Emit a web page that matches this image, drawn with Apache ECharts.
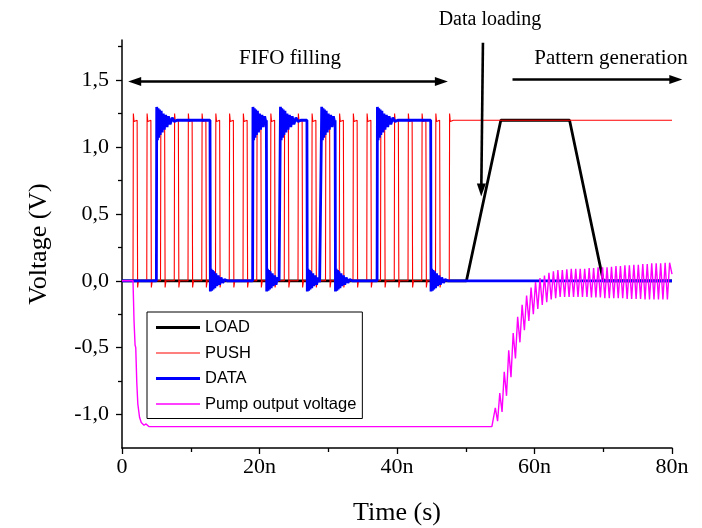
<!DOCTYPE html>
<html>
<head>
<meta charset="utf-8">
<script src="https://cdn.jsdelivr.net/npm/echarts@6/dist/echarts.min.js"></script>
<style>
html,body{margin:0;padding:0;background:#fff;}
#chart{width:702px;height:528px;}
</style>
</head>
<body>
<div id="chart"></div>
<script>
// ---- data (time in ns, voltage in V) ----
const xTicksMajor = [0, 20, 40, 60, 80];
const yTicksMajor = [-1.0, -0.5, 0.0, 0.5, 1.0, 1.5];
const yTicksMinor = [-0.75, -0.25, 0.25, 0.75, 1.25, 1.75];
const seriesNames = ['LOAD', 'PUSH', 'DATA', 'Pump output voltage'];

const loadData = [[0,0],[50.1,0],[55.1,1.2],[65.1,1.2],[70.0,0],[80,0]];

const pushData = [
[0,0],
[1.6,0],[1.65,1.25],[1.75,1.19],[2.2,1.2],[2.27,-0.05],[2.4,0],
[3.6,0],[3.65,1.25],[3.75,1.19],[4.2,1.2],[4.27,-0.05],[4.4,0],
[5.6,0],[5.65,1.25],[5.75,1.19],[6.2,1.2],[6.27,-0.05],[6.4,0],
[7.6,0],[7.65,1.25],[7.75,1.19],[8.2,1.2],[8.27,-0.05],[8.4,0],
[9.6,0],[9.65,1.25],[9.75,1.19],[10.2,1.2],[10.27,-0.05],[10.4,0],
[11.6,0],[11.65,1.25],[11.75,1.19],[12.2,1.2],[12.27,-0.05],[12.4,0],
[13.6,0],[13.65,1.25],[13.75,1.19],[14.2,1.2],[14.27,-0.05],[14.4,0],
[15.6,0],[15.65,1.25],[15.75,1.19],[16.2,1.2],[16.27,-0.05],[16.4,0],
[17.6,0],[17.65,1.25],[17.75,1.19],[18.2,1.2],[18.27,-0.05],[18.4,0],
[19.6,0],[19.65,1.25],[19.75,1.19],[20.2,1.2],[20.27,-0.05],[20.4,0],
[21.6,0],[21.65,1.25],[21.75,1.19],[22.2,1.2],[22.27,-0.05],[22.4,0],
[23.6,0],[23.65,1.25],[23.75,1.19],[24.2,1.2],[24.27,-0.05],[24.4,0],
[25.6,0],[25.65,1.25],[25.75,1.19],[26.2,1.2],[26.27,-0.05],[26.4,0],
[27.6,0],[27.65,1.25],[27.75,1.19],[28.2,1.2],[28.27,-0.05],[28.4,0],
[29.6,0],[29.65,1.25],[29.75,1.19],[30.2,1.2],[30.27,-0.05],[30.4,0],
[31.6,0],[31.65,1.25],[31.75,1.19],[32.2,1.2],[32.27,-0.05],[32.4,0],
[33.6,0],[33.65,1.25],[33.75,1.19],[34.2,1.2],[34.27,-0.05],[34.4,0],
[35.6,0],[35.65,1.25],[35.75,1.19],[36.2,1.2],[36.27,-0.05],[36.4,0],
[37.6,0],[37.65,1.25],[37.75,1.19],[38.2,1.2],[38.27,-0.05],[38.4,0],
[39.6,0],[39.65,1.25],[39.75,1.19],[40.2,1.2],[40.27,-0.05],[40.4,0],
[41.6,0],[41.65,1.25],[41.75,1.19],[42.2,1.2],[42.27,-0.05],[42.4,0],
[43.6,0],[43.65,1.25],[43.75,1.19],[44.2,1.2],[44.27,-0.05],[44.4,0],
[45.6,0],[45.65,1.25],[45.75,1.19],[46.2,1.2],[46.27,-0.05],[46.4,0],
[47.6,0],[47.65,1.25],[47.75,1.19],[48.2,1.2],[80,1.2]
];

const dataData = [
[0,0],
[5.0,0],[5.05,1.3],[5.15,1.05],[5.25,1.29],[5.35,1.07],[5.45,1.28],[5.55,1.09],[5.7,1.27],[5.85,1.11],[6.0,1.25],[6.15,1.13],[6.35,1.24],[6.55,1.15],[6.75,1.23],[7.0,1.17],[7.3,1.22],[7.6,1.19],[8.0,1.2],
[12.8,1.2],[12.85,-0.08],[12.95,0.09],[13.05,-0.075],[13.15,0.08],[13.25,-0.065],[13.35,0.07],[13.5,-0.055],[13.65,0.055],[13.8,-0.04],[14.0,0.04],[14.2,-0.03],[14.4,0.025],[14.65,-0.015],[14.9,0.01],[15.3,0],
[19.0,0],[19.05,1.3],[19.15,1.05],[19.25,1.29],[19.35,1.07],[19.45,1.28],[19.55,1.09],[19.7,1.27],[19.85,1.11],[20.0,1.25],[20.15,1.13],[20.35,1.24],[20.55,1.15],[20.75,1.23],[20.95,1.18],
[21.0,1.2],[21.05,-0.08],[21.15,0.09],[21.25,-0.075],[21.35,0.08],[21.45,-0.065],[21.55,0.07],[21.7,-0.055],[21.85,0.055],[22.0,-0.04],[22.2,0.04],[22.4,-0.03],[22.6,0.025],[22.85,0],
[23.0,0],[23.05,1.3],[23.15,1.05],[23.25,1.29],[23.35,1.07],[23.45,1.28],[23.55,1.09],[23.7,1.27],[23.85,1.11],[24.0,1.25],[24.15,1.13],[24.35,1.24],[24.55,1.15],[24.75,1.23],[25.0,1.17],[25.3,1.22],[25.6,1.19],[26.0,1.2],
[26.9,1.2],[26.95,-0.08],[27.05,0.09],[27.15,-0.075],[27.25,0.08],[27.35,-0.065],[27.45,0.07],[27.6,-0.055],[27.75,0.055],[27.9,-0.04],[28.1,0.04],[28.3,-0.03],[28.5,0.025],[28.75,-0.01],[28.9,0],
[29.0,0],[29.05,1.3],[29.15,1.05],[29.25,1.29],[29.35,1.07],[29.45,1.28],[29.55,1.09],[29.7,1.27],[29.85,1.11],[30.0,1.25],[30.15,1.13],[30.35,1.24],[30.55,1.15],[30.75,1.23],[30.95,1.18],
[31.0,1.2],[31.05,-0.08],[31.15,0.09],[31.25,-0.075],[31.35,0.08],[31.45,-0.065],[31.55,0.07],[31.7,-0.055],[31.85,0.055],[32.0,-0.04],[32.2,0.04],[32.4,-0.03],[32.6,0.025],[32.85,-0.015],[33.1,0.01],[33.5,0],
[37.1,0],[37.15,1.3],[37.25,1.05],[37.35,1.29],[37.45,1.07],[37.55,1.28],[37.65,1.09],[37.8,1.27],[37.95,1.11],[38.1,1.25],[38.25,1.13],[38.45,1.24],[38.65,1.15],[38.85,1.23],[39.1,1.17],[39.4,1.22],[39.7,1.19],[40.1,1.2],
[44.9,1.2],[44.95,-0.08],[45.05,0.09],[45.15,-0.075],[45.25,0.08],[45.35,-0.065],[45.45,0.07],[45.6,-0.055],[45.75,0.055],[45.9,-0.04],[46.1,0.04],[46.3,-0.03],[46.5,0.025],[46.75,-0.015],[47.0,0.01],[47.4,0],
[80,0]
];

const pumpData = [
[0,0],[1.6,0],[1.75,-0.3],[1.9,-0.48],[2.0,-0.5],[2.15,-0.76],[2.3,-0.92],[2.55,-1.02],[2.8,-1.06],[3.0,-1.05],[3.2,-1.08],[3.5,-1.07],[3.9,-1.09],
[53.8,-1.09],[54.0,-1.1],
[54.3,-0.95],[54.63,-1.05],[54.95,-0.84],[55.28,-0.98],[55.6,-0.68],[55.93,-0.86],[56.25,-0.52],[56.58,-0.72],
[56.9,-0.39],[57.23,-0.58],[57.55,-0.27],[57.88,-0.46],[58.2,-0.18],[58.53,-0.37],[58.85,-0.11],[59.18,-0.3],
[59.5,-0.05],[59.83,-0.25],[60.15,-0.01],[60.48,-0.21],[60.8,0.02],[61.13,-0.18],[61.45,0.04],[61.78,-0.16],
[62.1,0.06],[62.43,-0.14],[62.75,0.07],[63.08,-0.13],[63.4,0.08],[63.73,-0.12],[64.05,0.08],[64.38,-0.12],
[64.7,0.085],[65.03,-0.12],[65.35,0.09],[65.68,-0.12],[66.0,0.09],[66.33,-0.12],[66.65,0.09],[66.98,-0.12],
[67.3,0.09],[67.63,-0.12],[67.95,0.095],[68.28,-0.125],[68.6,0.095],[68.93,-0.125],[69.25,0.1],[69.58,-0.125],
[69.9,0.1],[70.23,-0.13],[70.55,0.1],[70.88,-0.13],[71.2,0.105],[71.53,-0.13],[71.85,0.11],[72.18,-0.13],
[72.5,0.11],[72.83,-0.13],[73.15,0.115],[73.48,-0.135],[73.8,0.115],[74.13,-0.135],[74.45,0.12],[74.78,-0.135],
[75.1,0.12],[75.43,-0.135],[75.75,0.125],[76.08,-0.14],[76.4,0.125],[76.73,-0.14],[77.05,0.13],[77.38,-0.14],
[77.7,0.13],[78.03,-0.14],[78.35,0.13],[78.68,-0.14],[79.0,0.135],[79.33,-0.14],[79.65,0.135],[80.0,0.05]
];

// annotation arrows: [x1, y1, x2, y2, headAtStart, headAtEnd]
const arrowData = [
  [0.9, 1.49, 47.4, 1.49, 1, 1],
  [52.5, 1.78, 52.25, 0.63, 0, 1],
  [56.8, 1.505, 81.5, 1.505, 0, 1]
];
const annotationTexts = ['FIFO filling', 'Data loading', 'Pattern generation'];

// ---- chart ----
const chart = echarts.init(document.getElementById('chart'), null, {renderer: 'canvas'});
const serif = 'Liberation Serif, Times New Roman, serif';
const sans = 'Liberation Sans, Arial, sans-serif';

function fmtY(v) { return v.toFixed(1).replace('.', ','); }
function fmtX(v) { return v === 0 ? '0' : v + 'n'; }

function renderArrow(params, api) {
  const p1 = api.coord([api.value(0), api.value(1)]);
  const p2 = api.coord([api.value(2), api.value(3)]);
  const hs = api.value(4), he = api.value(5);
  const dx = p2[0] - p1[0], dy = p2[1] - p1[1];
  const len = Math.sqrt(dx * dx + dy * dy);
  const ux = dx / len, uy = dy / len;
  const nx = -uy, ny = ux;
  const L = 13, W = 4.5;
  const children = [];
  const a = hs ? [p1[0] + ux * (L - 2), p1[1] + uy * (L - 2)] : p1;
  const b = he ? [p2[0] - ux * (L - 2), p2[1] - uy * (L - 2)] : p2;
  children.push({type: 'line', shape: {x1: a[0], y1: a[1], x2: b[0], y2: b[1]},
    style: {stroke: '#000', lineWidth: 2.6}});
  if (he) {
    children.push({type: 'polygon', shape: {points: [
      p2, [p2[0] - ux * L + nx * W, p2[1] - uy * L + ny * W], [p2[0] - ux * L - nx * W, p2[1] - uy * L - ny * W]]},
      style: {fill: '#000'}});
  }
  if (hs) {
    children.push({type: 'polygon', shape: {points: [
      p1, [p1[0] + ux * L + nx * W, p1[1] + uy * L + ny * W], [p1[0] + ux * L - nx * W, p1[1] + uy * L - ny * W]]},
      style: {fill: '#000'}});
  }
  return {type: 'group', children: children};
}

// legend icons: flat bars shaped like line samples
const iconThick = 'path://M0,0 L44,0 L44,2.8 L0,2.8 Z';
const iconThin = 'path://M0,0 L44,0 L44,1.2 L0,1.2 Z';
const iconMid = 'path://M0,0 L44,0 L44,1.5 L0,1.5 Z';

const option = {
  animation: false,
  backgroundColor: '#fff',
  grid: {left: 122, right: 30, top: 40, bottom: 80, containLabel: false, outerBoundsMode: 'none'},
  xAxis: [{
    type: 'value', min: 0, max: 80, interval: 20,
    name: 'Time (s)', nameLocation: 'middle', nameGap: 52,
    nameTextStyle: {fontFamily: serif, fontSize: 26, color: '#000'},
    axisLine: {show: true, onZero: false, lineStyle: {color: '#000', width: 1.5}},
    axisTick: {show: true, length: 6, lineStyle: {color: '#000', width: 1.3}},
    minorTick: {show: true, splitNumber: 2, length: 4, lineStyle: {color: '#000', width: 1.3}},
    axisLabel: {show: true, margin: 8, fontFamily: serif, fontSize: 22, color: '#000',
      formatter: fmtX, customValues: xTicksMajor},
    splitLine: {show: false}, minorSplitLine: {show: false}
  }],
  yAxis: [{
    type: 'value', min: -1.25, max: 1.8, position: 'left',
    name: 'Voltage (V)', nameLocation: 'middle', nameGap: 70, nameRotate: 90,
    nameTextStyle: {fontFamily: serif, fontSize: 26, color: '#000'},
    axisLine: {show: true, onZero: false, lineStyle: {color: '#000', width: 1.5}},
    axisTick: {show: true, length: 6, customValues: yTicksMajor, lineStyle: {color: '#000', width: 1.3}},
    axisLabel: {show: true, margin: 13, fontFamily: serif, fontSize: 22, color: '#000',
      formatter: fmtY, customValues: yTicksMajor},
    splitLine: {show: false}
  }, {
    type: 'value', min: -1.25, max: 1.8, position: 'left', offset: 0,
    axisLine: {show: false, onZero: false},
    axisTick: {show: true, length: 4, customValues: yTicksMinor, lineStyle: {color: '#000', width: 1.3}},
    axisLabel: {show: false},
    splitLine: {show: false}
  }],
  legend: {
    show: true, orient: 'vertical', left: 147, top: 312,
    data: [
      {name: seriesNames[0], icon: iconThick},
      {name: seriesNames[1], icon: iconThin},
      {name: seriesNames[2], icon: iconThick},
      {name: seriesNames[3], icon: iconMid}
    ],
    itemWidth: 44, itemHeight: 17, itemGap: 8.5,
    padding: [7, 6, 6, 9],
    borderColor: '#000', borderWidth: 1, borderRadius: 0,
    backgroundColor: '#fff',
    itemStyle: {borderWidth: 0},
    textStyle: {fontFamily: sans, fontSize: 16.5, color: '#000'},
    selectedMode: false
  },
  graphic: [
    {type: 'text', x: 290, y: 58, z: 100, style: {text: annotationTexts[0], fontFamily: serif, fontSize: 21, fill: '#000', align: 'center', verticalAlign: 'middle'}},
    {type: 'text', x: 490, y: 20, z: 100, style: {text: annotationTexts[1], fontFamily: serif, fontSize: 20, fill: '#000', align: 'center', verticalAlign: 'middle'}},
    {type: 'text', x: 611, y: 58, z: 100, style: {text: annotationTexts[2], fontFamily: serif, fontSize: 21, fill: '#000', align: 'center', verticalAlign: 'middle'}}
  ],
  series: [
    {name: 'LOAD', type: 'line', data: loadData, symbol: 'none', showSymbol: false,
      lineStyle: {color: '#000', width: 2.8}, itemStyle: {color: '#000'}, z: 2},
    {name: 'PUSH', type: 'line', data: pushData, symbol: 'none', showSymbol: false,
      lineStyle: {color: '#ff0000', width: 1.1}, itemStyle: {color: '#ff0000'}, z: 3},
    {name: 'DATA', type: 'line', data: dataData, symbol: 'none', showSymbol: false,
      lineStyle: {color: '#0000ff', width: 2.8}, itemStyle: {color: '#0000ff'}, z: 4},
    {name: 'Pump output voltage', type: 'line', data: pumpData, symbol: 'none', showSymbol: false,
      lineStyle: {color: '#ff00ff', width: 1.4}, itemStyle: {color: '#ff00ff'}, z: 5},
    {name: 'arrows', type: 'custom', data: arrowData, renderItem: renderArrow, clip: false, z: 6,
      encode: {x: [0, 2], y: [1, 3]}, silent: true}
  ]
};
chart.setOption(option);
</script>
</body>
</html>
